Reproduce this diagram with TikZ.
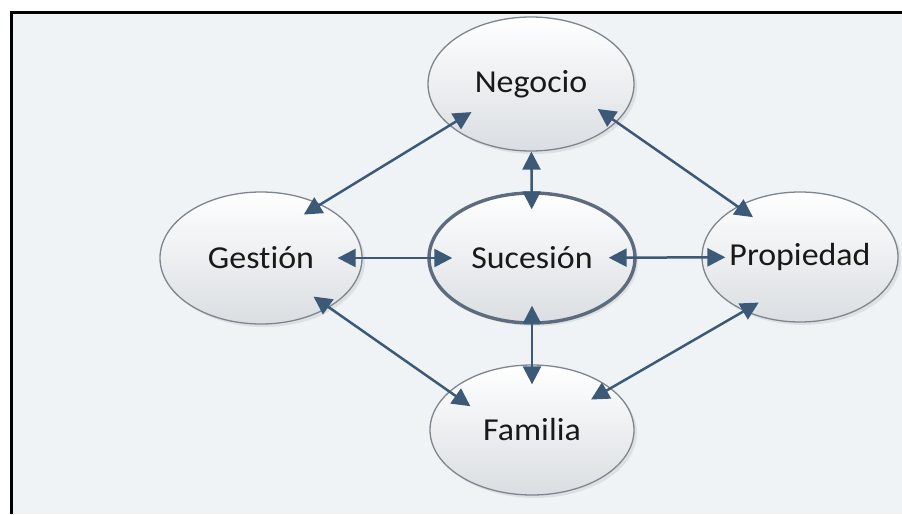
\documentclass[tikz,border=0pt]{standalone}
\usepackage{fontspec}
\setmainfont{Carlito}[FakeStretch=1.06, Ligatures={NoCommon}]
\usetikzlibrary{shapes.geometric,arrows.meta,shadows}
\definecolor{fondo}{RGB}{239,243,245}
\definecolor{azul}{RGB}{60,90,120}
\definecolor{borde}{RGB}{125,134,143}
\definecolor{bordesuc}{RGB}{92,108,126}
\definecolor{sombra}{RGB}{218,222,226}
\tikzset{every label/.style={font=\fontsize{32}{38}\selectfont, inner sep=0pt, text=black!90},
  elipse/.style={ellipse, draw=borde, line width=1.3pt, top color=white, bottom color=sombra, inner sep=0pt,
  drop shadow={opacity=0.15, shadow xshift=3pt, shadow yshift=-3pt}},
  centro/.style={elipse, draw=bordesuc, line width=3.4pt},
  flecha/.style={draw=azul, line width=2.5pt, >={Triangle[length=18pt,width=18pt]}, <->}}

\begin{document}
\begin{tikzpicture}[x=1pt,y=-1pt]
  \useasboundingbox (0,0) rectangle (902,514);
  \fill[white] (0,0) rectangle (902,514);
  \fill[fondo] (11,12) rectangle (902,514);
  \draw[black, line width=3pt] (11,514) -- (11,12) -- (902,12);

  \node[elipse, minimum width=206pt, minimum height=134pt, label=center:Negocio] (neg) at (531,84) {};
  \node[centro, minimum width=206pt, minimum height=130pt, label=center:Sucesión] (suc) at (532,258) {};
  \node[elipse, minimum width=202pt, minimum height=132pt, label=center:Gestión] (ges) at (261,258) {};
  \node[elipse, minimum width=196pt, minimum height=130pt, label=center:Propiedad] (prop) at (800,257) {};
  \node[elipse, minimum width=204pt, minimum height=130pt, label=center:Familia] (fam) at (532,430) {};

  \draw[flecha, shorten <=-26pt, shorten >=-20pt] (neg.207) -- (ges.42);
  \draw[flecha, shorten <=-23pt, shorten >=-19pt] (neg.336) -- (prop.141);
  \draw[flecha, shorten <=-19pt, shorten >=-26pt] (ges.324) -- (fam.155);
  \draw[flecha, shorten <=-17pt, shorten >=-23pt] (prop.224) -- (fam.28);
  \draw[flecha, shorten >=-18pt] (neg) -- (suc);
  \draw[flecha, shorten <=-19pt, shorten >=-20pt] (suc) -- (fam);
  \draw[flecha, shorten <=-25pt, shorten >=-25pt] (ges) -- (suc);
  \draw[flecha, shorten <=-28pt, shorten >=-24pt] (suc) -- (prop);
\end{tikzpicture}
\end{document}
